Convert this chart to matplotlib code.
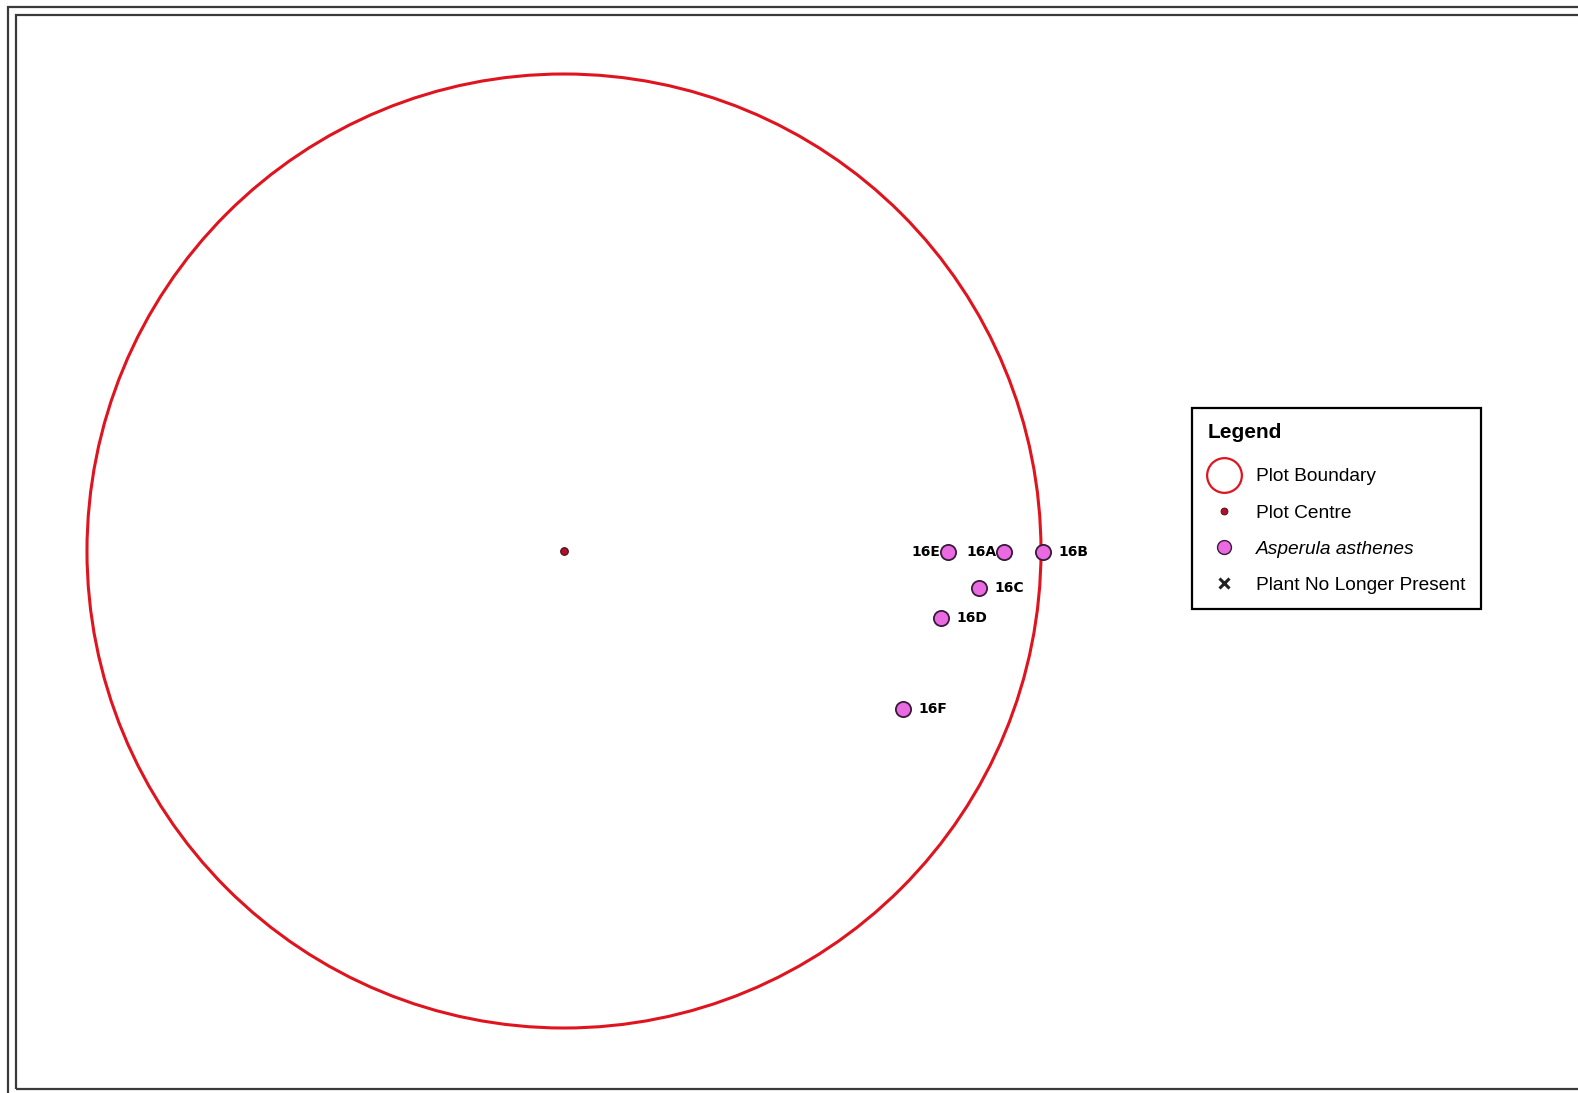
import numpy as np
import matplotlib
matplotlib.use("Agg")
from matplotlib import pyplot as plt
from matplotlib.patches import Circle, Rectangle
from matplotlib.lines import Line2D

# plot layout in metres, centre at 0,0
plot_radius = 11.28
centre_x = [0.0]
centre_y = [0.0]

# Asperula asthenes plants (east, north offsets from centre, m)
plant_ids = ["16A", "16B", "16C", "16D", "16E", "16F"]
plant_east = [10.41, 11.32, 9.81, 8.92, 9.07, 8.01]
plant_north = [-0.03, -0.03, -0.88, -1.58, -0.03, -3.74]
# label on the left of the point or the right
label_side = ["left", "right", "right", "right", "left", "right"]

legend_labels = ["Plot Boundary", "Plot Centre", "Asperula asthenes",
                 "Plant No Longer Present"]

W, H = 1578, 1093
fig = plt.figure(figsize=(W / 100, H / 100), dpi=100)
fig.patch.set_facecolor("white")
ax = fig.add_axes([0, 0, 1, 1])
ax.axis("off")

# pixel position of the plot centre and scale (px per m)
cx, cy = 564, 551
s = 477 / plot_radius
ax.set_xlim(-cx / s, (W - cx) / s)
ax.set_ylim(-(H - cy) / s, cy / s)

red = "#e0141e"
pink = "#ea6ae2"
ax.add_patch(Circle((0, 0), plot_radius, fill=False, edgecolor=red, lw=2.2, zorder=2))
ax.scatter(centre_x, centre_y, s=30, c="#b0102c", edgecolors="#401010",
           linewidths=0.8, zorder=4)
ax.scatter(plant_east, plant_north, s=120, c=pink, edgecolors="#3a1a3a",
           linewidths=1.3, zorder=5)

for pid, x, y, side in zip(plant_ids, plant_east, plant_north, label_side):
    if side == "left":
        ax.annotate(pid, (x, y), xytext=(-5.5, 0), textcoords="offset points",
                    ha="right", va="center", fontsize=10, fontweight="bold",
                    family="DejaVu Sans", zorder=4)
    else:
        ax.annotate(pid, (x, y), xytext=(11, 0), textcoords="offset points",
                    ha="left", va="center", fontsize=10, fontweight="bold",
                    family="DejaVu Sans", zorder=6)

handles = [
    Line2D([], [], ls="none", marker="o", ms=25, mfc="white", mec=red, mew=1.6),
    Line2D([], [], ls="none", marker="o", ms=5, mfc="#b0102c", mec="#401010", mew=0.6),
    Line2D([], [], ls="none", marker="o", ms=10, mfc=pink, mec="#3a1a3a", mew=1.0),
    Line2D([], [], ls="none", marker="x", ms=7, mec="#222222", mew=2.2),
]
leg = ax.legend(handles, legend_labels, loc="upper left",
                bbox_to_anchor=(1192 / W, 1 - 408 / H), bbox_transform=fig.transFigure,
                borderaxespad=0, title="Legend", alignment="left",
                title_fontproperties={"family": "Liberation Sans", "weight": "bold", "size": 15},
                prop={"family": "Liberation Sans", "size": 13.8},
                fancybox=False, edgecolor="black", framealpha=1,
                labelspacing=0.98, handletextpad=0.85, handlelength=1.7,
                borderpad=0.8)
leg.get_frame().set_linewidth(1.6)
leg.get_texts()[2].set_style("italic")
# extra room between the title and the first entry
leg._legend_box.sep = 18.5

# double map frame
fig.add_artist(Rectangle((8 / W, -0.1), 2, 1.1 - 7 / H, fill=False,
                         edgecolor="#3a3a3a", lw=1.6, transform=fig.transFigure))
fig.add_artist(Rectangle((16 / W, 1 - 1089 / H), 2, (1089 - 15) / H, fill=False,
                         edgecolor="#3a3a3a", lw=1.6, transform=fig.transFigure))

plt.savefig("out.png", dpi=100)
